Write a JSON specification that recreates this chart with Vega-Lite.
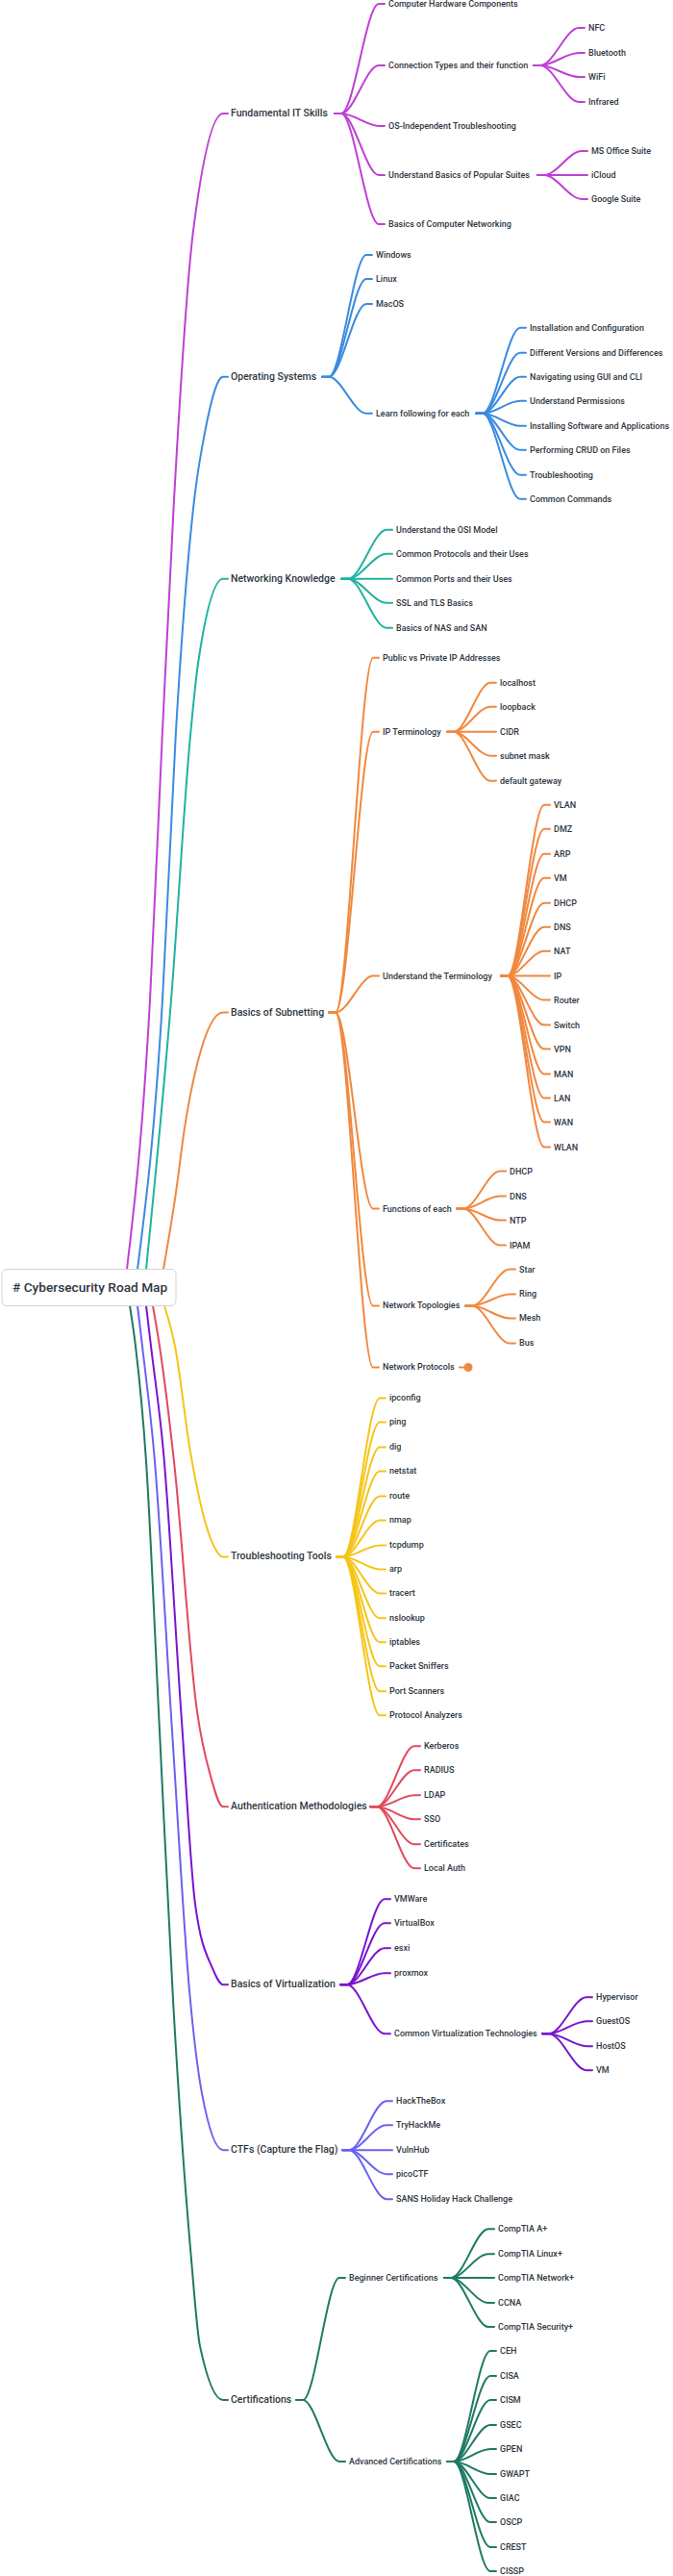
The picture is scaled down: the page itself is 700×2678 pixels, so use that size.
{
"$schema":"https://vega.github.io/schema/vega-lite/v6.json",
"width":700,"height":2678,
"autosize":{"type":"fit","contains":"padding"},
"padding":0,
"background":"white",
"config":{"view":{"stroke":null}},
"datasets":{
"edges":[
{"e":1,"b":"P","x":132,"y":1320},{"e":1,"b":"P","x":156,"y":1040},{"e":1,"b":"P","x":169,"y":760},{"e":1,"b":"P","x":181,"y":520},{"e":1,"b":"P","x":201,"y":240},{"e":1,"b":"P","x":232,"y":118},{"e":1,"b":"P","x":237,"y":118},
{"e":2,"b":"B","x":143,"y":1320},{"e":2,"b":"B","x":169,"y":1040},{"e":2,"b":"B","x":183,"y":760},{"e":2,"b":"B","x":202,"y":520},{"e":2,"b":"B","x":213,"y":450},{"e":2,"b":"B","x":232,"y":392},{"e":2,"b":"B","x":237,"y":392},
{"e":3,"b":"T","x":152,"y":1320},{"e":3,"b":"T","x":178,"y":1040},{"e":3,"b":"T","x":198,"y":765},{"e":3,"b":"T","x":206,"y":690},{"e":3,"b":"T","x":232,"y":602},{"e":3,"b":"T","x":237,"y":602},
{"e":4,"b":"O","x":170,"y":1320},{"e":4,"b":"O","x":183,"y":1240},{"e":4,"b":"O","x":192,"y":1173},{"e":4,"b":"O","x":205,"y":1107},{"e":4,"b":"O","x":232,"y":1053},{"e":4,"b":"O","x":237,"y":1053},
{"e":5,"b":"Y","x":171,"y":1358},{"e":5,"b":"Y","x":182,"y":1400},{"e":5,"b":"Y","x":198,"y":1510},{"e":5,"b":"Y","x":219,"y":1600},{"e":5,"b":"Y","x":232,"y":1619},{"e":5,"b":"Y","x":237,"y":1619},
{"e":6,"b":"R","x":159,"y":1358},{"e":6,"b":"R","x":166,"y":1400},{"e":6,"b":"R","x":181,"y":1520},{"e":6,"b":"R","x":205,"y":1780},{"e":6,"b":"R","x":219,"y":1847},{"e":6,"b":"R","x":232,"y":1879},{"e":6,"b":"R","x":237,"y":1879},
{"e":7,"b":"V","x":152,"y":1358},{"e":7,"b":"V","x":157,"y":1400},{"e":7,"b":"V","x":170,"y":1510},{"e":7,"b":"V","x":189,"y":1790},{"e":7,"b":"V","x":203,"y":1980},{"e":7,"b":"V","x":221,"y":2047},{"e":7,"b":"V","x":232,"y":2064},{"e":7,"b":"V","x":237,"y":2064},
{"e":8,"b":"W","x":143,"y":1358},{"e":8,"b":"W","x":148,"y":1400},{"e":8,"b":"W","x":161,"y":1520},{"e":8,"b":"W","x":179,"y":1800},{"e":8,"b":"W","x":197,"y":2070},{"e":8,"b":"W","x":210,"y":2177},{"e":8,"b":"W","x":232,"y":2236},{"e":8,"b":"W","x":237,"y":2236},
{"e":9,"b":"G","x":135,"y":1358},{"e":9,"b":"G","x":141,"y":1400},{"e":9,"b":"G","x":152,"y":1520},{"e":9,"b":"G","x":166,"y":1800},{"e":9,"b":"G","x":180,"y":2080},{"e":9,"b":"G","x":199,"y":2350},{"e":9,"b":"G","x":208,"y":2440},{"e":9,"b":"G","x":232,"y":2496},{"e":9,"b":"G","x":237,"y":2496},
{"e":10,"b":"P","x":348,"y":118},{"e":10,"b":"P","x":355,"y":118},{"e":10,"b":"P","x":394,"y":4},{"e":10,"b":"P","x":400,"y":4},
{"e":11,"b":"P","x":348,"y":118},{"e":11,"b":"P","x":355,"y":118},{"e":11,"b":"P","x":394,"y":68},{"e":11,"b":"P","x":400,"y":68},
{"e":12,"b":"P","x":348,"y":118},{"e":12,"b":"P","x":355,"y":118},{"e":12,"b":"P","x":394,"y":131},{"e":12,"b":"P","x":400,"y":131},
{"e":13,"b":"P","x":348,"y":118},{"e":13,"b":"P","x":355,"y":118},{"e":13,"b":"P","x":394,"y":182},{"e":13,"b":"P","x":400,"y":182},
{"e":14,"b":"P","x":348,"y":118},{"e":14,"b":"P","x":355,"y":118},{"e":14,"b":"P","x":394,"y":233},{"e":14,"b":"P","x":400,"y":233},
{"e":15,"b":"P","x":555,"y":68},{"e":15,"b":"P","x":562,"y":68},{"e":15,"b":"P","x":602,"y":29},{"e":15,"b":"P","x":608,"y":29},
{"e":16,"b":"P","x":555,"y":68},{"e":16,"b":"P","x":562,"y":68},{"e":16,"b":"P","x":602,"y":55},{"e":16,"b":"P","x":608,"y":55},
{"e":17,"b":"P","x":555,"y":68},{"e":17,"b":"P","x":562,"y":68},{"e":17,"b":"P","x":602,"y":80},{"e":17,"b":"P","x":608,"y":80},
{"e":18,"b":"P","x":555,"y":68},{"e":18,"b":"P","x":562,"y":68},{"e":18,"b":"P","x":602,"y":106},{"e":18,"b":"P","x":608,"y":106},
{"e":19,"b":"P","x":559,"y":182},{"e":19,"b":"P","x":566,"y":182},{"e":19,"b":"P","x":605,"y":157},{"e":19,"b":"P","x":611,"y":157},
{"e":20,"b":"P","x":559,"y":182},{"e":20,"b":"P","x":566,"y":182},{"e":20,"b":"P","x":605,"y":182},{"e":20,"b":"P","x":611,"y":182},
{"e":21,"b":"P","x":559,"y":182},{"e":21,"b":"P","x":566,"y":182},{"e":21,"b":"P","x":605,"y":207},{"e":21,"b":"P","x":611,"y":207},
{"e":22,"b":"B","x":335,"y":392},{"e":22,"b":"B","x":342,"y":392},{"e":22,"b":"B","x":381,"y":265},{"e":22,"b":"B","x":387,"y":265},
{"e":23,"b":"B","x":335,"y":392},{"e":23,"b":"B","x":342,"y":392},{"e":23,"b":"B","x":381,"y":290},{"e":23,"b":"B","x":387,"y":290},
{"e":24,"b":"B","x":335,"y":392},{"e":24,"b":"B","x":342,"y":392},{"e":24,"b":"B","x":381,"y":316},{"e":24,"b":"B","x":387,"y":316},
{"e":25,"b":"B","x":335,"y":392},{"e":25,"b":"B","x":342,"y":392},{"e":25,"b":"B","x":381,"y":430},{"e":25,"b":"B","x":387,"y":430},
{"e":26,"b":"B","x":495,"y":430},{"e":26,"b":"B","x":502,"y":430},{"e":26,"b":"B","x":541,"y":341},{"e":26,"b":"B","x":547,"y":341},
{"e":27,"b":"B","x":495,"y":430},{"e":27,"b":"B","x":502,"y":430},{"e":27,"b":"B","x":541,"y":367},{"e":27,"b":"B","x":547,"y":367},
{"e":28,"b":"B","x":495,"y":430},{"e":28,"b":"B","x":502,"y":430},{"e":28,"b":"B","x":541,"y":392},{"e":28,"b":"B","x":547,"y":392},
{"e":29,"b":"B","x":495,"y":430},{"e":29,"b":"B","x":502,"y":430},{"e":29,"b":"B","x":541,"y":417},{"e":29,"b":"B","x":547,"y":417},
{"e":30,"b":"B","x":495,"y":430},{"e":30,"b":"B","x":502,"y":430},{"e":30,"b":"B","x":541,"y":443},{"e":30,"b":"B","x":547,"y":443},
{"e":31,"b":"B","x":495,"y":430},{"e":31,"b":"B","x":502,"y":430},{"e":31,"b":"B","x":541,"y":468},{"e":31,"b":"B","x":547,"y":468},
{"e":32,"b":"B","x":495,"y":430},{"e":32,"b":"B","x":502,"y":430},{"e":32,"b":"B","x":541,"y":494},{"e":32,"b":"B","x":547,"y":494},
{"e":33,"b":"B","x":495,"y":430},{"e":33,"b":"B","x":502,"y":430},{"e":33,"b":"B","x":541,"y":519},{"e":33,"b":"B","x":547,"y":519},
{"e":34,"b":"T","x":355,"y":602},{"e":34,"b":"T","x":362,"y":602},{"e":34,"b":"T","x":402,"y":551},{"e":34,"b":"T","x":408,"y":551},
{"e":35,"b":"T","x":355,"y":602},{"e":35,"b":"T","x":362,"y":602},{"e":35,"b":"T","x":402,"y":576},{"e":35,"b":"T","x":408,"y":576},
{"e":36,"b":"T","x":355,"y":602},{"e":36,"b":"T","x":362,"y":602},{"e":36,"b":"T","x":402,"y":602},{"e":36,"b":"T","x":408,"y":602},
{"e":37,"b":"T","x":355,"y":602},{"e":37,"b":"T","x":362,"y":602},{"e":37,"b":"T","x":402,"y":627},{"e":37,"b":"T","x":408,"y":627},
{"e":38,"b":"T","x":355,"y":602},{"e":38,"b":"T","x":362,"y":602},{"e":38,"b":"T","x":402,"y":653},{"e":38,"b":"T","x":408,"y":653},
{"e":39,"b":"O","x":342,"y":1053},{"e":39,"b":"O","x":349,"y":1053},{"e":39,"b":"O","x":388,"y":684},{"e":39,"b":"O","x":394,"y":684},
{"e":40,"b":"O","x":342,"y":1053},{"e":40,"b":"O","x":349,"y":1053},{"e":40,"b":"O","x":388,"y":761},{"e":40,"b":"O","x":394,"y":761},
{"e":41,"b":"O","x":342,"y":1053},{"e":41,"b":"O","x":349,"y":1053},{"e":41,"b":"O","x":388,"y":1015},{"e":41,"b":"O","x":394,"y":1015},
{"e":42,"b":"O","x":342,"y":1053},{"e":42,"b":"O","x":349,"y":1053},{"e":42,"b":"O","x":388,"y":1257},{"e":42,"b":"O","x":394,"y":1257},
{"e":43,"b":"O","x":342,"y":1053},{"e":43,"b":"O","x":349,"y":1053},{"e":43,"b":"O","x":388,"y":1358},{"e":43,"b":"O","x":394,"y":1358},
{"e":44,"b":"O","x":342,"y":1053},{"e":44,"b":"O","x":349,"y":1053},{"e":44,"b":"O","x":388,"y":1422},{"e":44,"b":"O","x":394,"y":1422},
{"e":45,"b":"O","x":465,"y":761},{"e":45,"b":"O","x":472,"y":761},{"e":45,"b":"O","x":510,"y":710},{"e":45,"b":"O","x":516,"y":710},
{"e":46,"b":"O","x":465,"y":761},{"e":46,"b":"O","x":472,"y":761},{"e":46,"b":"O","x":510,"y":735},{"e":46,"b":"O","x":516,"y":735},
{"e":47,"b":"O","x":465,"y":761},{"e":47,"b":"O","x":472,"y":761},{"e":47,"b":"O","x":510,"y":761},{"e":47,"b":"O","x":516,"y":761},
{"e":48,"b":"O","x":465,"y":761},{"e":48,"b":"O","x":472,"y":761},{"e":48,"b":"O","x":510,"y":786},{"e":48,"b":"O","x":516,"y":786},
{"e":49,"b":"O","x":465,"y":761},{"e":49,"b":"O","x":472,"y":761},{"e":49,"b":"O","x":510,"y":812},{"e":49,"b":"O","x":516,"y":812},
{"e":50,"b":"O","x":521,"y":1015},{"e":50,"b":"O","x":528,"y":1015},{"e":50,"b":"O","x":566,"y":837},{"e":50,"b":"O","x":572,"y":837},
{"e":51,"b":"O","x":521,"y":1015},{"e":51,"b":"O","x":528,"y":1015},{"e":51,"b":"O","x":566,"y":862},{"e":51,"b":"O","x":572,"y":862},
{"e":52,"b":"O","x":521,"y":1015},{"e":52,"b":"O","x":528,"y":1015},{"e":52,"b":"O","x":566,"y":888},{"e":52,"b":"O","x":572,"y":888},
{"e":53,"b":"O","x":521,"y":1015},{"e":53,"b":"O","x":528,"y":1015},{"e":53,"b":"O","x":566,"y":913},{"e":53,"b":"O","x":572,"y":913},
{"e":54,"b":"O","x":521,"y":1015},{"e":54,"b":"O","x":528,"y":1015},{"e":54,"b":"O","x":566,"y":939},{"e":54,"b":"O","x":572,"y":939},
{"e":55,"b":"O","x":521,"y":1015},{"e":55,"b":"O","x":528,"y":1015},{"e":55,"b":"O","x":566,"y":964},{"e":55,"b":"O","x":572,"y":964},
{"e":56,"b":"O","x":521,"y":1015},{"e":56,"b":"O","x":528,"y":1015},{"e":56,"b":"O","x":566,"y":989},{"e":56,"b":"O","x":572,"y":989},
{"e":57,"b":"O","x":521,"y":1015},{"e":57,"b":"O","x":528,"y":1015},{"e":57,"b":"O","x":566,"y":1015},{"e":57,"b":"O","x":572,"y":1015},
{"e":58,"b":"O","x":521,"y":1015},{"e":58,"b":"O","x":528,"y":1015},{"e":58,"b":"O","x":566,"y":1040},{"e":58,"b":"O","x":572,"y":1040},
{"e":59,"b":"O","x":521,"y":1015},{"e":59,"b":"O","x":528,"y":1015},{"e":59,"b":"O","x":566,"y":1066},{"e":59,"b":"O","x":572,"y":1066},
{"e":60,"b":"O","x":521,"y":1015},{"e":60,"b":"O","x":528,"y":1015},{"e":60,"b":"O","x":566,"y":1091},{"e":60,"b":"O","x":572,"y":1091},
{"e":61,"b":"O","x":521,"y":1015},{"e":61,"b":"O","x":528,"y":1015},{"e":61,"b":"O","x":566,"y":1117},{"e":61,"b":"O","x":572,"y":1117},
{"e":62,"b":"O","x":521,"y":1015},{"e":62,"b":"O","x":528,"y":1015},{"e":62,"b":"O","x":566,"y":1142},{"e":62,"b":"O","x":572,"y":1142},
{"e":63,"b":"O","x":521,"y":1015},{"e":63,"b":"O","x":528,"y":1015},{"e":63,"b":"O","x":566,"y":1167},{"e":63,"b":"O","x":572,"y":1167},
{"e":64,"b":"O","x":521,"y":1015},{"e":64,"b":"O","x":528,"y":1015},{"e":64,"b":"O","x":566,"y":1193},{"e":64,"b":"O","x":572,"y":1193},
{"e":65,"b":"O","x":475,"y":1257},{"e":65,"b":"O","x":482,"y":1257},{"e":65,"b":"O","x":520,"y":1218},{"e":65,"b":"O","x":526,"y":1218},
{"e":66,"b":"O","x":475,"y":1257},{"e":66,"b":"O","x":482,"y":1257},{"e":66,"b":"O","x":520,"y":1244},{"e":66,"b":"O","x":526,"y":1244},
{"e":67,"b":"O","x":475,"y":1257},{"e":67,"b":"O","x":482,"y":1257},{"e":67,"b":"O","x":520,"y":1269},{"e":67,"b":"O","x":526,"y":1269},
{"e":68,"b":"O","x":475,"y":1257},{"e":68,"b":"O","x":482,"y":1257},{"e":68,"b":"O","x":520,"y":1295},{"e":68,"b":"O","x":526,"y":1295},
{"e":69,"b":"O","x":484,"y":1358},{"e":69,"b":"O","x":491,"y":1358},{"e":69,"b":"O","x":530,"y":1320},{"e":69,"b":"O","x":536,"y":1320},
{"e":70,"b":"O","x":484,"y":1358},{"e":70,"b":"O","x":491,"y":1358},{"e":70,"b":"O","x":530,"y":1346},{"e":70,"b":"O","x":536,"y":1346},
{"e":71,"b":"O","x":484,"y":1358},{"e":71,"b":"O","x":491,"y":1358},{"e":71,"b":"O","x":530,"y":1371},{"e":71,"b":"O","x":536,"y":1371},
{"e":72,"b":"O","x":484,"y":1358},{"e":72,"b":"O","x":491,"y":1358},{"e":72,"b":"O","x":530,"y":1397},{"e":72,"b":"O","x":536,"y":1397},
{"e":73,"b":"O","x":478,"y":1422},{"e":73,"b":"O","x":485,"y":1422},
{"e":74,"b":"Y","x":350,"y":1619},{"e":74,"b":"Y","x":357,"y":1619},{"e":74,"b":"Y","x":395,"y":1454},{"e":74,"b":"Y","x":401,"y":1454},
{"e":75,"b":"Y","x":350,"y":1619},{"e":75,"b":"Y","x":357,"y":1619},{"e":75,"b":"Y","x":395,"y":1479},{"e":75,"b":"Y","x":401,"y":1479},
{"e":76,"b":"Y","x":350,"y":1619},{"e":76,"b":"Y","x":357,"y":1619},{"e":76,"b":"Y","x":395,"y":1505},{"e":76,"b":"Y","x":401,"y":1505},
{"e":77,"b":"Y","x":350,"y":1619},{"e":77,"b":"Y","x":357,"y":1619},{"e":77,"b":"Y","x":395,"y":1530},{"e":77,"b":"Y","x":401,"y":1530},
{"e":78,"b":"Y","x":350,"y":1619},{"e":78,"b":"Y","x":357,"y":1619},{"e":78,"b":"Y","x":395,"y":1556},{"e":78,"b":"Y","x":401,"y":1556},
{"e":79,"b":"Y","x":350,"y":1619},{"e":79,"b":"Y","x":357,"y":1619},{"e":79,"b":"Y","x":395,"y":1581},{"e":79,"b":"Y","x":401,"y":1581},
{"e":80,"b":"Y","x":350,"y":1619},{"e":80,"b":"Y","x":357,"y":1619},{"e":80,"b":"Y","x":395,"y":1607},{"e":80,"b":"Y","x":401,"y":1607},
{"e":81,"b":"Y","x":350,"y":1619},{"e":81,"b":"Y","x":357,"y":1619},{"e":81,"b":"Y","x":395,"y":1632},{"e":81,"b":"Y","x":401,"y":1632},
{"e":82,"b":"Y","x":350,"y":1619},{"e":82,"b":"Y","x":357,"y":1619},{"e":82,"b":"Y","x":395,"y":1657},{"e":82,"b":"Y","x":401,"y":1657},
{"e":83,"b":"Y","x":350,"y":1619},{"e":83,"b":"Y","x":357,"y":1619},{"e":83,"b":"Y","x":395,"y":1683},{"e":83,"b":"Y","x":401,"y":1683},
{"e":84,"b":"Y","x":350,"y":1619},{"e":84,"b":"Y","x":357,"y":1619},{"e":84,"b":"Y","x":395,"y":1708},{"e":84,"b":"Y","x":401,"y":1708},
{"e":85,"b":"Y","x":350,"y":1619},{"e":85,"b":"Y","x":357,"y":1619},{"e":85,"b":"Y","x":395,"y":1733},{"e":85,"b":"Y","x":401,"y":1733},
{"e":86,"b":"Y","x":350,"y":1619},{"e":86,"b":"Y","x":357,"y":1619},{"e":86,"b":"Y","x":395,"y":1759},{"e":86,"b":"Y","x":401,"y":1759},
{"e":87,"b":"Y","x":350,"y":1619},{"e":87,"b":"Y","x":357,"y":1619},{"e":87,"b":"Y","x":395,"y":1784},{"e":87,"b":"Y","x":401,"y":1784},
{"e":88,"b":"R","x":385,"y":1879},{"e":88,"b":"R","x":392,"y":1879},{"e":88,"b":"R","x":431,"y":1816},{"e":88,"b":"R","x":437,"y":1816},
{"e":89,"b":"R","x":385,"y":1879},{"e":89,"b":"R","x":392,"y":1879},{"e":89,"b":"R","x":431,"y":1841},{"e":89,"b":"R","x":437,"y":1841},
{"e":90,"b":"R","x":385,"y":1879},{"e":90,"b":"R","x":392,"y":1879},{"e":90,"b":"R","x":431,"y":1867},{"e":90,"b":"R","x":437,"y":1867},
{"e":91,"b":"R","x":385,"y":1879},{"e":91,"b":"R","x":392,"y":1879},{"e":91,"b":"R","x":431,"y":1892},{"e":91,"b":"R","x":437,"y":1892},
{"e":92,"b":"R","x":385,"y":1879},{"e":92,"b":"R","x":392,"y":1879},{"e":92,"b":"R","x":431,"y":1918},{"e":92,"b":"R","x":437,"y":1918},
{"e":93,"b":"R","x":385,"y":1879},{"e":93,"b":"R","x":392,"y":1879},{"e":93,"b":"R","x":431,"y":1943},{"e":93,"b":"R","x":437,"y":1943},
{"e":94,"b":"V","x":354,"y":2064},{"e":94,"b":"V","x":361,"y":2064},{"e":94,"b":"V","x":400,"y":1975},{"e":94,"b":"V","x":406,"y":1975},
{"e":95,"b":"V","x":354,"y":2064},{"e":95,"b":"V","x":361,"y":2064},{"e":95,"b":"V","x":400,"y":2000},{"e":95,"b":"V","x":406,"y":2000},
{"e":96,"b":"V","x":354,"y":2064},{"e":96,"b":"V","x":361,"y":2064},{"e":96,"b":"V","x":400,"y":2026},{"e":96,"b":"V","x":406,"y":2026},
{"e":97,"b":"V","x":354,"y":2064},{"e":97,"b":"V","x":361,"y":2064},{"e":97,"b":"V","x":400,"y":2052},{"e":97,"b":"V","x":406,"y":2052},
{"e":98,"b":"V","x":354,"y":2064},{"e":98,"b":"V","x":361,"y":2064},{"e":98,"b":"V","x":400,"y":2115},{"e":98,"b":"V","x":406,"y":2115},
{"e":99,"b":"V","x":564,"y":2115},{"e":99,"b":"V","x":571,"y":2115},{"e":99,"b":"V","x":610,"y":2077},{"e":99,"b":"V","x":616,"y":2077},
{"e":100,"b":"V","x":564,"y":2115},{"e":100,"b":"V","x":571,"y":2115},{"e":100,"b":"V","x":610,"y":2102},{"e":100,"b":"V","x":616,"y":2102},
{"e":101,"b":"V","x":564,"y":2115},{"e":101,"b":"V","x":571,"y":2115},{"e":101,"b":"V","x":610,"y":2128},{"e":101,"b":"V","x":616,"y":2128},
{"e":102,"b":"V","x":564,"y":2115},{"e":102,"b":"V","x":571,"y":2115},{"e":102,"b":"V","x":610,"y":2153},{"e":102,"b":"V","x":616,"y":2153},
{"e":103,"b":"W","x":356,"y":2236},{"e":103,"b":"W","x":363,"y":2236},{"e":103,"b":"W","x":402,"y":2185},{"e":103,"b":"W","x":408,"y":2185},
{"e":104,"b":"W","x":356,"y":2236},{"e":104,"b":"W","x":363,"y":2236},{"e":104,"b":"W","x":402,"y":2210},{"e":104,"b":"W","x":408,"y":2210},
{"e":105,"b":"W","x":356,"y":2236},{"e":105,"b":"W","x":363,"y":2236},{"e":105,"b":"W","x":402,"y":2236},{"e":105,"b":"W","x":408,"y":2236},
{"e":106,"b":"W","x":356,"y":2236},{"e":106,"b":"W","x":363,"y":2236},{"e":106,"b":"W","x":402,"y":2261},{"e":106,"b":"W","x":408,"y":2261},
{"e":107,"b":"W","x":356,"y":2236},{"e":107,"b":"W","x":363,"y":2236},{"e":107,"b":"W","x":402,"y":2287},{"e":107,"b":"W","x":408,"y":2287},
{"e":108,"b":"G","x":308,"y":2496},{"e":108,"b":"G","x":315,"y":2496},{"e":108,"b":"G","x":353,"y":2369},{"e":108,"b":"G","x":359,"y":2369},
{"e":109,"b":"G","x":308,"y":2496},{"e":109,"b":"G","x":315,"y":2496},{"e":109,"b":"G","x":353,"y":2560},{"e":109,"b":"G","x":359,"y":2560},
{"e":110,"b":"G","x":462,"y":2369},{"e":110,"b":"G","x":469,"y":2369},{"e":110,"b":"G","x":508,"y":2318},{"e":110,"b":"G","x":514,"y":2318},
{"e":111,"b":"G","x":462,"y":2369},{"e":111,"b":"G","x":469,"y":2369},{"e":111,"b":"G","x":508,"y":2344},{"e":111,"b":"G","x":514,"y":2344},
{"e":112,"b":"G","x":462,"y":2369},{"e":112,"b":"G","x":469,"y":2369},{"e":112,"b":"G","x":508,"y":2369},{"e":112,"b":"G","x":514,"y":2369},
{"e":113,"b":"G","x":462,"y":2369},{"e":113,"b":"G","x":469,"y":2369},{"e":113,"b":"G","x":508,"y":2395},{"e":113,"b":"G","x":514,"y":2395},
{"e":114,"b":"G","x":462,"y":2369},{"e":114,"b":"G","x":469,"y":2369},{"e":114,"b":"G","x":508,"y":2420},{"e":114,"b":"G","x":514,"y":2420},
{"e":115,"b":"G","x":465,"y":2560},{"e":115,"b":"G","x":472,"y":2560},{"e":115,"b":"G","x":510,"y":2445},{"e":115,"b":"G","x":516,"y":2445},
{"e":116,"b":"G","x":465,"y":2560},{"e":116,"b":"G","x":472,"y":2560},{"e":116,"b":"G","x":510,"y":2471},{"e":116,"b":"G","x":516,"y":2471},
{"e":117,"b":"G","x":465,"y":2560},{"e":117,"b":"G","x":472,"y":2560},{"e":117,"b":"G","x":510,"y":2496},{"e":117,"b":"G","x":516,"y":2496},
{"e":118,"b":"G","x":465,"y":2560},{"e":118,"b":"G","x":472,"y":2560},{"e":118,"b":"G","x":510,"y":2522},{"e":118,"b":"G","x":516,"y":2522},
{"e":119,"b":"G","x":465,"y":2560},{"e":119,"b":"G","x":472,"y":2560},{"e":119,"b":"G","x":510,"y":2547},{"e":119,"b":"G","x":516,"y":2547},
{"e":120,"b":"G","x":465,"y":2560},{"e":120,"b":"G","x":472,"y":2560},{"e":120,"b":"G","x":510,"y":2573},{"e":120,"b":"G","x":516,"y":2573},
{"e":121,"b":"G","x":465,"y":2560},{"e":121,"b":"G","x":472,"y":2560},{"e":121,"b":"G","x":510,"y":2598},{"e":121,"b":"G","x":516,"y":2598},
{"e":122,"b":"G","x":465,"y":2560},{"e":122,"b":"G","x":472,"y":2560},{"e":122,"b":"G","x":510,"y":2623},{"e":122,"b":"G","x":516,"y":2623},
{"e":123,"b":"G","x":465,"y":2560},{"e":123,"b":"G","x":472,"y":2560},{"e":123,"b":"G","x":510,"y":2649},{"e":123,"b":"G","x":516,"y":2649},
{"e":124,"b":"G","x":465,"y":2560},{"e":124,"b":"G","x":472,"y":2560},{"e":124,"b":"G","x":510,"y":2674},{"e":124,"b":"G","x":516,"y":2674}
],
"dots":[{"b":"O","x":487,"y":1422}],
"rootbox":[{"t":"# Cybersecurity Road Map","x":2,"x2":183,"y":1320,"y2":1358,"tx":13,"ty":1340}],
"nodes":[
{"t":"Fundamental IT Skills","l":1,"x":240,"y":118},
{"t":"Operating Systems","l":1,"x":240,"y":392},
{"t":"Networking Knowledge","l":1,"x":240,"y":602},
{"t":"Basics of Subnetting","l":1,"x":240,"y":1053},
{"t":"Troubleshooting Tools","l":1,"x":240,"y":1619},
{"t":"Authentication Methodologies","l":1,"x":240,"y":1879},
{"t":"Basics of Virtualization","l":1,"x":240,"y":2064},
{"t":"CTFs (Capture the Flag)","l":1,"x":240,"y":2236},
{"t":"Certifications","l":1,"x":240,"y":2496},
{"t":"Computer Hardware Components","l":2,"x":404,"y":4},
{"t":"Connection Types and their function","l":2,"x":404,"y":68},
{"t":"OS-Independent Troubleshooting","l":2,"x":404,"y":131},
{"t":"Understand Basics of Popular Suites","l":2,"x":404,"y":182},
{"t":"Basics of Computer Networking","l":2,"x":404,"y":233},
{"t":"NFC","l":2,"x":612,"y":29},
{"t":"Bluetooth","l":2,"x":612,"y":55},
{"t":"WiFi","l":2,"x":612,"y":80},
{"t":"Infrared","l":2,"x":612,"y":106},
{"t":"MS Office Suite","l":2,"x":615,"y":157},
{"t":"iCloud","l":2,"x":615,"y":182},
{"t":"Google Suite","l":2,"x":615,"y":207},
{"t":"Windows","l":2,"x":391,"y":265},
{"t":"Linux","l":2,"x":391,"y":290},
{"t":"MacOS","l":2,"x":391,"y":316},
{"t":"Learn following for each","l":2,"x":391,"y":430},
{"t":"Installation and Configuration","l":2,"x":551,"y":341},
{"t":"Different Versions and Differences","l":2,"x":551,"y":367},
{"t":"Navigating using GUI and CLI","l":2,"x":551,"y":392},
{"t":"Understand Permissions","l":2,"x":551,"y":417},
{"t":"Installing Software and Applications","l":2,"x":551,"y":443},
{"t":"Performing CRUD on Files","l":2,"x":551,"y":468},
{"t":"Troubleshooting","l":2,"x":551,"y":494},
{"t":"Common Commands","l":2,"x":551,"y":519},
{"t":"Understand the OSI Model","l":2,"x":412,"y":551},
{"t":"Common Protocols and their Uses","l":2,"x":412,"y":576},
{"t":"Common Ports and their Uses","l":2,"x":412,"y":602},
{"t":"SSL and TLS Basics","l":2,"x":412,"y":627},
{"t":"Basics of NAS and SAN","l":2,"x":412,"y":653},
{"t":"Public vs Private IP Addresses","l":2,"x":398,"y":684},
{"t":"IP Terminology","l":2,"x":398,"y":761},
{"t":"Understand the Terminology","l":2,"x":398,"y":1015},
{"t":"Functions of each","l":2,"x":398,"y":1257},
{"t":"Network Topologies","l":2,"x":398,"y":1358},
{"t":"Network Protocols","l":2,"x":398,"y":1422},
{"t":"localhost","l":2,"x":520,"y":710},
{"t":"loopback","l":2,"x":520,"y":735},
{"t":"CIDR","l":2,"x":520,"y":761},
{"t":"subnet mask","l":2,"x":520,"y":786},
{"t":"default gateway","l":2,"x":520,"y":812},
{"t":"VLAN","l":2,"x":576,"y":837},
{"t":"DMZ","l":2,"x":576,"y":862},
{"t":"ARP","l":2,"x":576,"y":888},
{"t":"VM","l":2,"x":576,"y":913},
{"t":"DHCP","l":2,"x":576,"y":939},
{"t":"DNS","l":2,"x":576,"y":964},
{"t":"NAT","l":2,"x":576,"y":989},
{"t":"IP","l":2,"x":576,"y":1015},
{"t":"Router","l":2,"x":576,"y":1040},
{"t":"Switch","l":2,"x":576,"y":1066},
{"t":"VPN","l":2,"x":576,"y":1091},
{"t":"MAN","l":2,"x":576,"y":1117},
{"t":"LAN","l":2,"x":576,"y":1142},
{"t":"WAN","l":2,"x":576,"y":1167},
{"t":"WLAN","l":2,"x":576,"y":1193},
{"t":"DHCP","l":2,"x":530,"y":1218},
{"t":"DNS","l":2,"x":530,"y":1244},
{"t":"NTP","l":2,"x":530,"y":1269},
{"t":"IPAM","l":2,"x":530,"y":1295},
{"t":"Star","l":2,"x":540,"y":1320},
{"t":"Ring","l":2,"x":540,"y":1346},
{"t":"Mesh","l":2,"x":540,"y":1371},
{"t":"Bus","l":2,"x":540,"y":1397},
{"t":"ipconfig","l":2,"x":405,"y":1454},
{"t":"ping","l":2,"x":405,"y":1479},
{"t":"dig","l":2,"x":405,"y":1505},
{"t":"netstat","l":2,"x":405,"y":1530},
{"t":"route","l":2,"x":405,"y":1556},
{"t":"nmap","l":2,"x":405,"y":1581},
{"t":"tcpdump","l":2,"x":405,"y":1607},
{"t":"arp","l":2,"x":405,"y":1632},
{"t":"tracert","l":2,"x":405,"y":1657},
{"t":"nslookup","l":2,"x":405,"y":1683},
{"t":"iptables","l":2,"x":405,"y":1708},
{"t":"Packet Sniffers","l":2,"x":405,"y":1733},
{"t":"Port Scanners","l":2,"x":405,"y":1759},
{"t":"Protocol Analyzers","l":2,"x":405,"y":1784},
{"t":"Kerberos","l":2,"x":441,"y":1816},
{"t":"RADIUS","l":2,"x":441,"y":1841},
{"t":"LDAP","l":2,"x":441,"y":1867},
{"t":"SSO","l":2,"x":441,"y":1892},
{"t":"Certificates","l":2,"x":441,"y":1918},
{"t":"Local Auth","l":2,"x":441,"y":1943},
{"t":"VMWare","l":2,"x":410,"y":1975},
{"t":"VirtualBox","l":2,"x":410,"y":2000},
{"t":"esxi","l":2,"x":410,"y":2026},
{"t":"proxmox","l":2,"x":410,"y":2052},
{"t":"Common Virtualization Technologies","l":2,"x":410,"y":2115},
{"t":"Hypervisor","l":2,"x":620,"y":2077},
{"t":"GuestOS","l":2,"x":620,"y":2102},
{"t":"HostOS","l":2,"x":620,"y":2128},
{"t":"VM","l":2,"x":620,"y":2153},
{"t":"HackTheBox","l":2,"x":412,"y":2185},
{"t":"TryHackMe","l":2,"x":412,"y":2210},
{"t":"VulnHub","l":2,"x":412,"y":2236},
{"t":"picoCTF","l":2,"x":412,"y":2261},
{"t":"SANS Holiday Hack Challenge","l":2,"x":412,"y":2287},
{"t":"Beginner Certifications","l":2,"x":363,"y":2369},
{"t":"Advanced Certifications","l":2,"x":363,"y":2560},
{"t":"CompTIA A+","l":2,"x":518,"y":2318},
{"t":"CompTIA Linux+","l":2,"x":518,"y":2344},
{"t":"CompTIA Network+","l":2,"x":518,"y":2369},
{"t":"CCNA","l":2,"x":518,"y":2395},
{"t":"CompTIA Security+","l":2,"x":518,"y":2420},
{"t":"CEH","l":2,"x":520,"y":2445},
{"t":"CISA","l":2,"x":520,"y":2471},
{"t":"CISM","l":2,"x":520,"y":2496},
{"t":"GSEC","l":2,"x":520,"y":2522},
{"t":"GPEN","l":2,"x":520,"y":2547},
{"t":"GWAPT","l":2,"x":520,"y":2573},
{"t":"GIAC","l":2,"x":520,"y":2598},
{"t":"OSCP","l":2,"x":520,"y":2623},
{"t":"CREST","l":2,"x":520,"y":2649},
{"t":"CISSP","l":2,"x":520,"y":2674}
]
},
"encoding":{
"x":{"field":"x","type":"quantitative","scale":{"domain":[0,700],"nice":false,"zero":false},"axis":null},
"y":{"field":"y","type":"quantitative","scale":{"domain":[0,2678],"nice":false,"zero":false,"reverse":true},"axis":null}
},
"layer":[
{"data":{"name":"edges"},
 "mark":{"type":"line","interpolate":"monotone","strokeWidth":2,"strokeCap":"round","strokeJoin":"round"},
 "encoding":{"detail":{"field":"e","type":"nominal"},
  "color":{"field":"b","type":"nominal","legend":null,"scale":{"domain":["P","B","T","O","Y","R","V","W","G"],"range":["#c03fd6","#3a8be0","#1fb39f","#f0883e","#f5c518","#e04a5e","#7a14cf","#6a62f0","#1f7a63"]}}}},
{"data":{"name":"dots"},
 "mark":{"type":"circle","size":80,"opacity":1},
 "encoding":{"color":{"field":"b","type":"nominal","legend":null,"scale":{"domain":["P","B","T","O","Y","R","V","W","G"],"range":["#c03fd6","#3a8be0","#1fb39f","#f0883e","#f5c518","#e04a5e","#7a14cf","#6a62f0","#1f7a63"]}}}},
{"data":{"name":"rootbox"},
 "mark":{"type":"rect","fill":"white","stroke":"#cfd4da","strokeWidth":1,"cornerRadius":5},
 "encoding":{"x2":{"field":"x2"},"y2":{"field":"y2"}}},
{"data":{"name":"rootbox"},
 "mark":{"type":"text","align":"left","baseline":"middle","fontSize":13.7,"fontWeight":500,"font":"Roboto","fill":"#2f3742"},
 "encoding":{"x":{"field":"tx","type":"quantitative"},"y":{"field":"ty","type":"quantitative"},"text":{"field":"t"}}},
{"data":{"name":"nodes"},
 "transform":[{"filter":{"field":"l","equal":1}}],
 "mark":{"type":"text","align":"left","baseline":"middle","fontSize":10.5,"fontWeight":500,"font":"Roboto","fill":"#2f3742"},
 "encoding":{"text":{"field":"t"}}},
{"data":{"name":"nodes"},
 "transform":[{"filter":{"field":"l","equal":2}}],
 "mark":{"type":"text","align":"left","baseline":"middle","fontSize":9,"fontWeight":500,"font":"Roboto","fill":"#2f3742"},
 "encoding":{"text":{"field":"t"}}}
]
}
